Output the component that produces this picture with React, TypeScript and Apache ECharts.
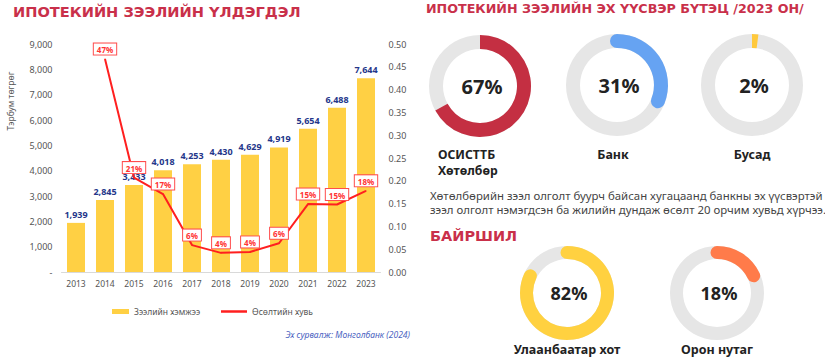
import React, { useEffect, useRef } from 'react';
import * as echarts from 'echarts';

const years = ['2013', '2014', '2015', '2016', '2017', '2018', '2019', '2020', '2021', '2022', '2023'];
const loanVolume = [1939, 2845, 3433, 4018, 4253, 4430, 4629, 4919, 5654, 6488, 7644];
const growthRate = [null, 0.467, 0.207, 0.171, 0.059, 0.042, 0.044, 0.063, 0.149, 0.148, 0.178];
const seriesNames = ['Зээлийн хэмжээ', 'Өсөлтийн хувь'];
const sourceNames = ['ОСИСТТБ\nХөтөлбөр', 'Банк', 'Бусад'];
const sourceShares = [67, 31, 2];
const locationNames = ['Улаанбаатар хот', 'Орон нутаг'];
const locationShares = [82, 18];
const noteLines = [
  'Хөтөлбөрийн зээл олголт буурч байсан хугацаанд банкны эх үүсвэртэй',
  'зээл олголт нэмэгдсэн ба жилийн дундаж өсөлт 20 орчим хувьд хүрчээ.',
];

const FONT = '"Noto Sans", sans-serif';
const TITLE_FONT = '"DejaVu Sans", sans-serif';
const CRIMSON = '#c9304a';

function donut(value: number, center: number[], radius: number, width: number, color: string, roundCap: boolean, fontSize: number) {
  return {
    type: 'gauge',
    center,
    radius,
    startAngle: 90,
    endAngle: -270,
    min: 0,
    max: 100,
    splitNumber: 1,
    pointer: { show: false },
    axisTick: { show: false },
    splitLine: { show: false },
    axisLabel: { show: false },
    axisLine: { lineStyle: { width, color: [[1, '#e6e6e6']] } },
    progress: { show: true, width, roundCap, itemStyle: { color } },
    title: { show: false },
    detail: {
      formatter: '{value}%',
      offsetCenter: [2, 0],
      fontSize,
      fontWeight: 'bold',
      color: '#222',
      fontFamily: FONT,
    },
    data: [{ value }],
  };
}

function txt(text: string, x: number, y: number, size: number, fill: string, opts: any = {}) {
  return {
    type: 'text',
    x,
    y,
    rotation: opts.rotation || 0,
    style: {
      text,
      fill,
      fontSize: size,
      fontWeight: opts.weight || 'normal',
      fontStyle: opts.italic ? 'italic' : 'normal',
      fontFamily: opts.family || FONT,
      textAlign: opts.align || 'left',
      textVerticalAlign: 'middle',
    },
  };
}

export default function App() {
  const ref = useRef<HTMLDivElement>(null);
  useEffect(() => {
    if (!ref.current) return;
    const chart = echarts.init(ref.current, null, { renderer: 'svg' });
    const srcColors = ['#c42f42', '#66a3f2', '#ffc93c'];
    const srcCaps = [false, true, false];
    const srcCenters = [[480, 86], [617, 85], [752, 85]];
    const locColors = ['#ffd140', '#ff7b4a'];
    const locCenters = [[567, 293], [717, 293]];

    const graphics: any[] = [
      txt('ИПОТЕКИЙН ЗЭЭЛИЙН ҮЛДЭГДЭЛ', 13, 11, 14.6, CRIMSON, { weight: 'bold', family: TITLE_FONT }),
      txt('Тэрбум төгрөг', 10, 101, 8.5, '#555', { rotation: Math.PI / 2, align: 'center' }),
      txt('Эх сурвалж: Монголбанк (2024)', 410, 334, 8.5, '#4a5fc1', { italic: true, align: 'right' }),
      txt('ИПОТЕКИЙН ЗЭЭЛИЙН ЭХ ҮҮСВЭР БҮТЭЦ /2023 ОН/', 426, 8, 12.7, CRIMSON, { weight: 'bold', family: TITLE_FONT }),
      txt(noteLines[0], 430, 195, 11.4, '#444'),
      txt(noteLines[1], 430, 209, 11.4, '#444'),
      txt('БАЙРШИЛ', 430, 236, 14.5, CRIMSON, { weight: 'bold', family: TITLE_FONT }),
    ];
    sourceNames.forEach((n, i) => {
      const lines = n.split('\n');
      if (lines.length > 1) {
        lines.forEach((l, j) => graphics.push(txt(l, 438, 154 + j * 16, 12.2, '#222', { weight: 'bold' })));
      } else {
        graphics.push(txt(n, srcCenters[i][0] - 4 + (i === 2 ? 4 : 0), 154, 12.5, '#222', { weight: 'bold', align: 'center' }));
      }
    });
    locationNames.forEach((n, i) => {
      graphics.push(txt(n, locCenters[i][0], 349, 12.5, '#222', { weight: 'bold', align: 'center' }));
    });

    chart.setOption({
      animation: false,
      textStyle: { fontFamily: FONT },
      grid: { left: 61.5, right: 825 - 380.5, top: 44, bottom: 358 - 272 },
      legend: [
        {
          data: [{ name: seriesNames[0], icon: 'rect' }],
          left: 112,
          top: 307,
          padding: 0,
          itemWidth: 17,
          itemHeight: 5,
          itemGap: 4,
          textStyle: { fontSize: 8.5, color: '#555', fontFamily: FONT },
        },
        {
          data: [{ name: seriesNames[1], icon: 'rect' }],
          left: 221,
          top: 307,
          padding: 0,
          itemWidth: 26,
          itemHeight: 2.5,
          textStyle: { fontSize: 8.5, color: '#555', fontFamily: FONT },
        },
      ],
      xAxis: {
        type: 'category',
        data: years,
        axisLine: { lineStyle: { color: '#d9d9d9', width: 1 } },
        axisTick: { show: false },
        axisLabel: { color: '#555', fontSize: 8.5, margin: 7 },
      },
      yAxis: [
        {
          type: 'value',
          min: 0,
          max: 9000,
          interval: 1000,
          splitLine: { show: false },
          axisLine: { show: false },
          axisTick: { show: false },
          axisLabel: {
            color: '#555',
            fontSize: 9,
            margin: 9,
            formatter: (v: number) => (v === 0 ? '-' : v.toLocaleString('en-US')),
          },
        },
        {
          type: 'value',
          min: 0,
          max: 0.5,
          interval: 0.05,
          splitLine: { show: false },
          axisLine: { show: false },
          axisTick: { show: false },
          axisLabel: {
            color: '#555',
            fontSize: 9,
            margin: 8,
            formatter: (v: number) => v.toFixed(2),
          },
        },
      ],
      series: [
        {
          name: seriesNames[0],
          type: 'bar',
          data: loanVolume,
          barWidth: 18,
          itemStyle: { color: '#ffd044' },
          label: {
            show: true,
            position: 'top',
            distance: 4,
            color: '#24368a',
            fontWeight: 'bold',
            fontSize: 9,
            formatter: (p: any) => p.value.toLocaleString('en-US'),
          },
          z: 2,
        },
        {
          name: seriesNames[1],
          type: 'line',
          yAxisIndex: 1,
          data: growthRate,
          symbol: 'circle',
          symbolSize: 1,
          showSymbol: true,
          lineStyle: { color: '#ff1f1f', width: 2 },
          itemStyle: { color: '#ff1f1f' },
          label: {
            show: true,
            position: 'top',
            distance: 4,
            color: '#ff3333',
            fontWeight: 'bold',
            fontSize: 8,
            backgroundColor: '#fff',
            borderColor: '#ff4d4d',
            borderWidth: 1,
            padding: [2, 3, 1, 3],
            formatter: (p: any) => Math.round(p.value * 100) + '%',
          },
          labelLayout: { hideOverlap: false },
          z: 3,
        },
        ...sourceShares.map((v, i) => donut(v, srcCenters[i], 51, 14, srcColors[i], srcCaps[i], 20)),
        ...locationShares.map((v, i) => donut(v, locCenters[i], 47, 13, locColors[i], true, 18)),
      ],
      graphic: graphics,
    });
    return () => chart.dispose();
  }, []);
  return (
    <div
      ref={ref}
      style={{ position: 'absolute', left: 0, top: 0, width: 825, height: 358, overflow: 'hidden', background: '#fff' }}
    />
  );
}
